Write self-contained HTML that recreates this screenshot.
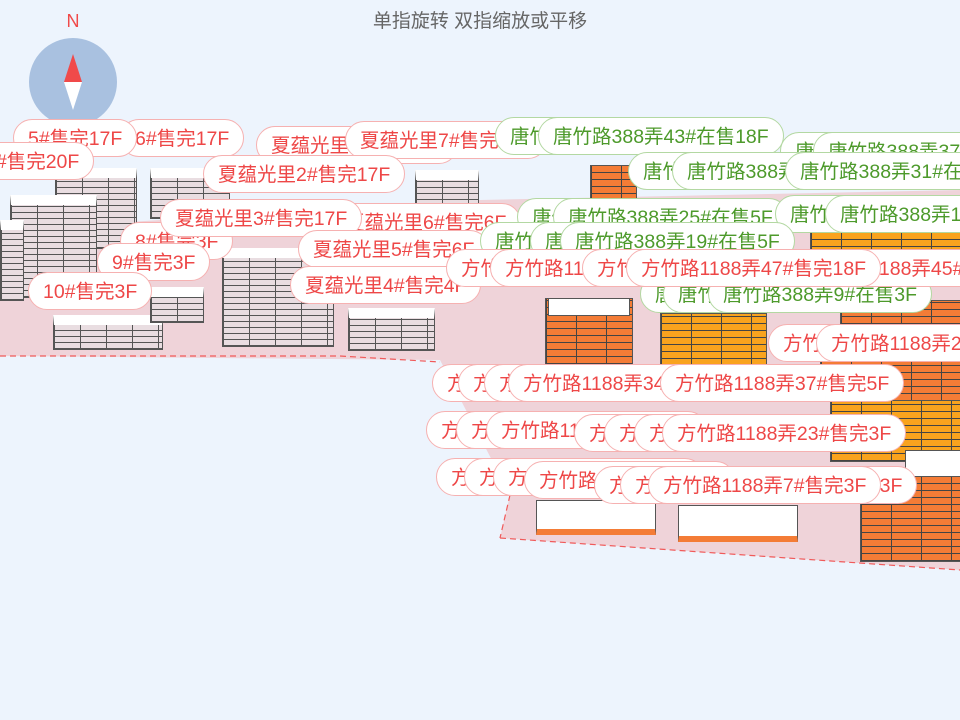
<!DOCTYPE html>
<html><head><meta charset="utf-8"><style>
html,body{margin:0;padding:0}
body{width:960px;height:720px;overflow:hidden;background:#edf4fd;position:relative;font-family:"Liberation Sans","Noto Sans CJK SC",sans-serif}
#c{position:absolute;left:0;top:0;width:960px;height:720px;overflow:hidden}
.p{position:absolute;height:38px;line-height:38px;padding:0 14px;border-radius:19px;font-size:19.5px;white-space:nowrap;background:#fff;box-sizing:border-box}
.r{color:#ee4747;border:1px solid #f6b1b1}
.g{color:#4d9a2b;border:1px solid #b3d8a2}
.b{position:absolute;background-color:#e9dde1;background-image:repeating-linear-gradient(0deg,#555 0 1px,transparent 1px 6px),repeating-linear-gradient(90deg,#555 0 1px,transparent 1px 26px);border:1px solid #555;border-top:10px solid #fff}
.o{position:absolute;background-color:#f47c36;background-image:repeating-linear-gradient(0deg,#444 0 1px,transparent 1px 7px),repeating-linear-gradient(90deg,#444 0 1px,transparent 1px 30px);border:1px solid #555}
.y{background-color:#f9a31e}
.w{position:absolute;background:#fff;border:1px solid #555}
</style></head><body><div id="c">
<svg width="960" height="720" style="position:absolute;left:0;top:0">
<polygon points="0,230 480,200 960,190 960,570 500,538 510,495 440,360 0,356" fill="#efd3d9"/>
<polyline points="0,356 340,356 440,362" fill="none" stroke="#f05a5a" stroke-dasharray="6,4" stroke-width="1.2"/>
<polyline points="500,538 960,570" fill="none" stroke="#f05a5a" stroke-dasharray="6,4" stroke-width="1.2"/>
<polyline points="510,495 500,538" fill="none" stroke="#f05a5a" stroke-dasharray="6,4" stroke-width="1.2"/>
<circle cx="73" cy="82" r="44" fill="#a9c1e0"/>
<polygon points="73,54 64,82 82,82" fill="#f04a4a"/>
<polygon points="73,110 64,82 82,82" fill="#fff"/>
<text x="73" y="27" text-anchor="middle" font-size="18" fill="#f04a4a" font-family="Liberation Sans">N</text>
<text x="480" y="27" text-anchor="middle" font-size="19" fill="#666" font-family="Liberation Sans,Noto Sans CJK SC">单指旋转 双指缩放或平移</text>
</svg>
<div class="b" style="left:55px;top:168px;width:80px;height:70px"></div>
<div class="b" style="left:10px;top:195px;width:85px;height:92px"></div>
<div class="b" style="left:150px;top:168px;width:78px;height:40px"></div>
<div class="b" style="left:0;top:220px;width:22px;height:70px"></div>
<div class="b" style="left:222px;top:248px;width:110px;height:88px"></div>
<div class="b" style="left:53px;top:315px;width:108px;height:24px"></div>
<div class="b" style="left:150px;top:287px;width:52px;height:25px"></div>
<div class="b" style="left:348px;top:308px;width:85px;height:32px"></div>
<div class="b" style="left:415px;top:170px;width:62px;height:32px"></div>
<div class="o" style="left:545px;top:298px;width:86px;height:65px"></div>
<div class="w" style="left:548px;top:298px;width:80px;height:16px"></div>
<div class="o y" style="left:660px;top:313px;width:105px;height:52px"></div>
<div class="o" style="left:590px;top:165px;width:45px;height:35px"></div>
<div class="o y" style="left:810px;top:230px;width:150px;height:30px"></div>
<div class="o" style="left:840px;top:300px;width:120px;height:30px"></div>
<div class="o" style="left:820px;top:360px;width:140px;height:40px"></div>
<div class="o y" style="left:830px;top:400px;width:130px;height:60px"></div>
<div class="o" style="left:860px;top:470px;width:100px;height:90px"></div>
<div class="w" style="left:905px;top:450px;width:55px;height:25px"></div>
<div class="w" style="left:536px;top:500px;width:118px;height:28px;border-bottom:6px solid #f47c36"></div>
<div class="w" style="left:678px;top:505px;width:118px;height:30px;border-bottom:6px solid #f47c36"></div>
<div class="p r" style="left:120px;top:119px">6#售完17F</div>
<div class="p r" style="left:13px;top:119px">5#售完17F</div>
<div class="p r" style="left:-30px;top:142px">4#售完20F</div>
<div class="p r" style="left:256px;top:126px">夏蕴光里1#售完17F</div>
<div class="p r" style="left:345px;top:121px">夏蕴光里7#售完17F</div>
<div class="p r" style="left:203px;top:155px">夏蕴光里2#售完17F</div>
<div class="p r" style="left:330px;top:203px">夏蕴光里6#售完6F</div>
<div class="p r" style="left:120px;top:222px">8#售完3F</div>
<div class="p r" style="left:160px;top:199px">夏蕴光里3#售完17F</div>
<div class="p r" style="left:97px;top:243px">9#售完3F</div>
<div class="p r" style="left:298px;top:230px">夏蕴光里5#售完6F</div>
<div class="p r" style="left:28px;top:272px">10#售完3F</div>
<div class="p r" style="left:290px;top:266px">夏蕴光里4#售完4F</div>
<div class="p g" style="left:495px;top:117px">唐竹路388弄41#在售18F</div>
<div class="p g" style="left:538px;top:117px">唐竹路388弄43#在售18F</div>
<div class="p g" style="left:780px;top:132px">唐竹路388弄35#在售</div>
<div class="p g" style="left:813px;top:132px">唐竹路388弄37#在售</div>
<div class="p g" style="left:628px;top:152px">唐竹路388弄27#在售</div>
<div class="p g" style="left:672px;top:152px">唐竹路388弄29#在售</div>
<div class="p g" style="left:785px;top:152px">唐竹路388弄31#在售18F</div>
<div class="p g" style="left:517px;top:198px">唐竹路388弄23#在售5F</div>
<div class="p g" style="left:553px;top:198px">唐竹路388弄25#在售5F</div>
<div class="p g" style="left:775px;top:195px">唐竹路388弄13#在售</div>
<div class="p g" style="left:825px;top:195px">唐竹路388弄15#在售</div>
<div class="p g" style="left:480px;top:222px">唐竹路388弄15#在售5F</div>
<div class="p g" style="left:530px;top:222px">唐竹路388弄17#在售5F</div>
<div class="p g" style="left:560px;top:222px">唐竹路388弄19#在售5F</div>
<div class="p g" style="left:640px;top:275px">唐竹路388弄5#在售3F</div>
<div class="p g" style="left:663px;top:275px">唐竹路388弄7#在售3F</div>
<div class="p g" style="left:708px;top:275px">唐竹路388弄9#在售3F</div>
<div class="p r" style="left:796px;top:249px">方竹路1188弄45#售完</div>
<div class="p r" style="left:446px;top:249px">方竹路1188弄41#售完</div>
<div class="p r" style="left:490px;top:249px">方竹路1188弄43#售完</div>
<div class="p r" style="left:582px;top:249px">方竹路1188弄45#售完</div>
<div class="p r" style="left:626px;top:249px">方竹路1188弄47#售完18F</div>
<div class="p r" style="left:768px;top:324px">方竹路1188弄25#售完</div>
<div class="p r" style="left:816px;top:324px">方竹路1188弄27#售完</div>
<div class="p r" style="left:432px;top:364px">方竹路1188弄31#售完</div>
<div class="p r" style="left:458px;top:364px">方竹路1188弄32#售完</div>
<div class="p r" style="left:484px;top:364px">方竹路1188弄33#售完</div>
<div class="p r" style="left:508px;top:364px">方竹路1188弄34#售完5F</div>
<div class="p r" style="left:660px;top:364px">方竹路1188弄37#售完5F</div>
<div class="p r" style="left:426px;top:411px">方竹路1188弄13#售完</div>
<div class="p r" style="left:456px;top:411px">方竹路1188弄15#售完</div>
<div class="p r" style="left:486px;top:411px">方竹路1188弄17#售完</div>
<div class="p r" style="left:574px;top:414px">方竹路1188弄19#售完</div>
<div class="p r" style="left:604px;top:414px">方竹路1188弄21#售完</div>
<div class="p r" style="left:634px;top:414px">方竹路1188弄22#售完</div>
<div class="p r" style="left:662px;top:414px">方竹路1188弄23#售完3F</div>
<div class="p r" style="left:436px;top:458px">方竹路1188弄1#售完</div>
<div class="p r" style="left:464px;top:458px">方竹路1188弄2#售完</div>
<div class="p r" style="left:493px;top:458px">方竹路1188弄3#售完</div>
<div class="p r" style="left:524px;top:461px">方竹路1188弄4#售完</div>
<div class="p r" style="left:684px;top:466px">方竹路1188弄9#售完3F</div>
<div class="p r" style="left:594px;top:466px">方竹路1188弄5#售完</div>
<div class="p r" style="left:620px;top:466px">方竹路1188弄6#售完</div>
<div class="p r" style="left:648px;top:466px">方竹路1188弄7#售完3F</div>
</div></body></html>
